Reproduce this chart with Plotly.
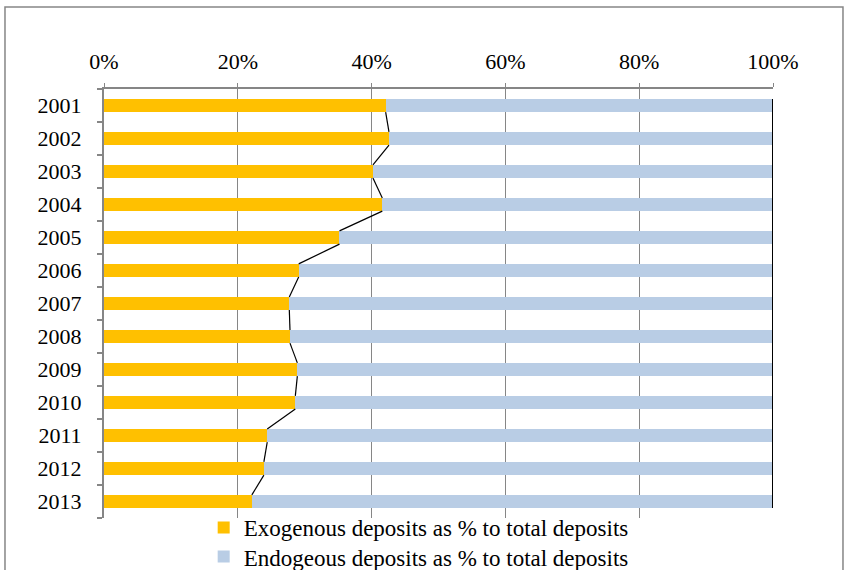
import plotly.graph_objects as go

years = ["2001", "2002", "2003", "2004", "2005", "2006", "2007",
         "2008", "2009", "2010", "2011", "2012", "2013"]
exogenous = [42.1, 42.6, 40.2, 41.6, 35.2, 29.1, 27.7, 27.8, 28.9, 28.6, 24.4, 23.9, 22.1]
endogenous = [57.9, 57.4, 59.8, 58.4, 64.8, 70.9, 72.3, 72.2, 71.1, 71.4, 75.6, 76.1, 77.9]
x_ticks = [0, 20, 40, 60, 80, 100]
x_tick_labels = ["0%", "20%", "40%", "60%", "80%", "100%"]

ORANGE = "#FFC000"
BLUE = "#B9CDE5"
GRAY = "#868686"
FONT = "'Liberation Serif', 'Times New Roman', Times, serif"
BAR_W = 0.4

pos = list(range(len(years)))

fig = go.Figure()
fig.add_trace(go.Bar(
    y=pos, x=exogenous, orientation="h", width=BAR_W,
    marker=dict(color=ORANGE, line=dict(width=0)),
    name="Exogenous deposits as % to total deposits", legend="legend",
))
fig.add_trace(go.Bar(
    y=pos, x=endogenous, orientation="h", width=BAR_W,
    marker=dict(color=BLUE, line=dict(width=0)),
    name="Endogeous deposits as % to total deposits", legend="legend2",
))

# series lines connecting bar ends (Excel style)
half = BAR_W / 2
for i in range(len(years) - 1):
    fig.add_trace(go.Scatter(
        x=[exogenous[i], exogenous[i + 1]],
        y=[pos[i] + half, pos[i + 1] - half],
        mode="lines", line=dict(color="black", width=1.2),
        showlegend=False, hoverinfo="skip",
    ))
totals = [a + b for a, b in zip(exogenous, endogenous)]
fig.add_trace(go.Scatter(
    x=[totals[0], totals[-1]],
    y=[pos[0] - half, pos[-1] + half],
    mode="lines", line=dict(color="black", width=2),
    showlegend=False, hoverinfo="skip",
))

fig.add_shape(type="rect", xref="paper", yref="paper",
              x0=-0.148, x1=1.1046, y0=-0.3, y1=1.191,
              line=dict(color=GRAY, width=1.5), layer="below")

legend_common = dict(
    x=0.149, xanchor="left", yanchor="top", orientation="v",
    font=dict(family=FONT, size=23), itemwidth=30,
    bgcolor="rgba(0,0,0,0)",
)

fig.update_layout(
    width=846, height=570,
    margin=dict(l=104, r=73, t=89, b=52, autoexpand=False),
    paper_bgcolor="white", plot_bgcolor="white",
    barmode="stack", bargap=0,
    font=dict(family=FONT, size=22, color="black"),
    legend=dict(y=0.028, **legend_common),
    legend2=dict(y=-0.040, **legend_common),
    xaxis=dict(
        side="top", range=[0, 100], tickvals=x_ticks, ticktext=x_tick_labels,
        showgrid=True, gridcolor=GRAY, gridwidth=1,
        showline=True, linecolor=GRAY, linewidth=2,
        ticks="outside", ticklen=4, tickcolor=GRAY,
        zeroline=False, tickfont=dict(size=22), automargin=False,
        ticklabelstandoff=5,
    ),
    yaxis=dict(
        range=[len(years) - 0.5, -0.5], tickvals=pos, ticktext=years,
        showgrid=False, zeroline=False,
        showline=True, linecolor=GRAY, linewidth=2,
        ticks="", tickfont=dict(size=22), automargin=False,
        ticklabelstandoff=16,
        minor=dict(tick0=-0.5, dtick=1, ticks="outside", ticklen=5,
                   tickcolor=GRAY, tickwidth=1.5, showgrid=False),
    ),
)

fig.write_html("out.html", config={"displayModeBar": False},
               post_script="document.body.style.margin='0';")
